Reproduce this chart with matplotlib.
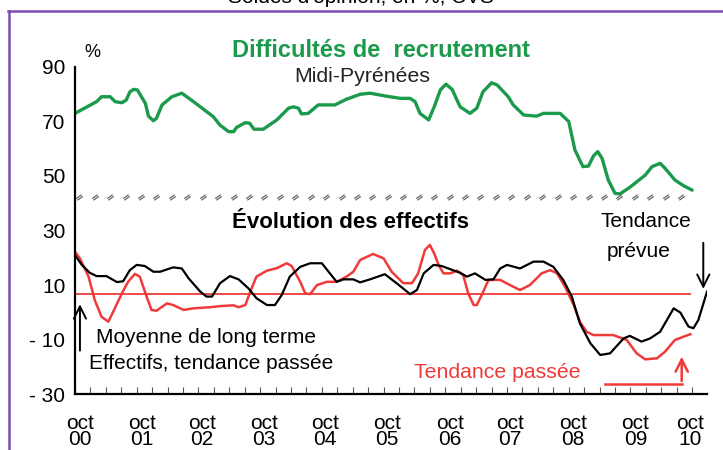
import matplotlib
matplotlib.use("Agg")
import matplotlib.pyplot as plt
from matplotlib.lines import Line2D
from matplotlib.markers import MarkerStyle
from matplotlib.transforms import Affine2D
import numpy as np

plt.rcParams['font.family'] = ['Liberation Sans', 'DejaVu Sans']

# ---- data ----
green_dates = [2000.75, 2001.10, 2001.18, 2001.32, 2001.40, 2001.51, 2001.58, 2001.64, 2001.70, 2001.76,
               2001.89, 2001.94, 2002.02, 2002.07, 2002.16, 2002.32, 2002.48, 2002.67, 2002.99, 2003.10,
               2003.24, 2003.32, 2003.37, 2003.51, 2003.58, 2003.65, 2003.80, 2004.02, 2004.21, 2004.29,
               2004.37, 2004.42, 2004.53, 2004.69, 2004.96, 2005.15, 2005.37, 2005.53, 2005.77, 2006.02,
               2006.18, 2006.26, 2006.34, 2006.48, 2006.57, 2006.67, 2006.76, 2006.86, 2006.99, 2007.15,
               2007.26, 2007.36, 2007.50, 2007.59, 2007.77, 2007.85, 2008.02, 2008.23, 2008.34, 2008.61,
               2008.75, 2008.85, 2008.98, 2009.07, 2009.15, 2009.22, 2009.29, 2009.39, 2009.50, 2009.58,
               2009.75, 2009.99, 2010.10, 2010.23, 2010.31, 2010.47, 2010.61, 2010.75]
green_values = [72.9, 77.2, 79.0, 79.0, 77.2, 76.8, 77.8, 80.8, 81.7, 81.5,
                76.6, 71.9, 70.2, 71.1, 76.0, 79.0, 80.3, 77.2, 71.7, 68.6,
                66.2, 66.2, 67.8, 69.5, 69.3, 67.1, 67.1, 70.5, 74.8, 75.3,
                74.8, 72.7, 72.9, 76.0, 76.0, 78.1, 79.9, 80.3, 79.3, 78.4,
                78.4, 77.2, 72.9, 70.5, 75.3, 81.5, 83.6, 81.7, 75.3, 72.9,
                74.8, 80.8, 84.1, 83.3, 79.0, 76.0, 72.3, 71.9, 72.9, 72.9,
                69.9, 59.5, 53.4, 53.6, 57.3, 58.9, 56.4, 48.5, 43.6, 43.4,
                46.0, 50.3, 53.4, 54.6, 52.8, 48.5, 46.4, 44.8]

black_dates = [2000.75, 2000.86, 2000.99, 2001.10, 2001.26, 2001.43, 2001.53, 2001.64, 2001.75, 2001.88,
               2002.02, 2002.13, 2002.34, 2002.48, 2002.59, 2002.78, 2002.88, 2002.97, 2003.10, 2003.26,
               2003.40, 2003.56, 2003.69, 2003.86, 2003.99, 2004.10, 2004.23, 2004.40, 2004.56, 2004.75,
               2004.88, 2004.99, 2005.10, 2005.26, 2005.37, 2005.53, 2005.77, 2005.96, 2006.18, 2006.29,
               2006.40, 2006.56, 2006.69, 2006.99, 2007.10, 2007.23, 2007.40, 2007.53, 2007.64, 2007.75,
               2007.96, 2008.18, 2008.34, 2008.50, 2008.66, 2008.80, 2008.93, 2009.10, 2009.26, 2009.42,
               2009.64, 2009.74, 2009.93, 2010.07, 2010.23, 2010.34, 2010.45, 2010.56, 2010.69, 2010.77,
               2010.85, 2010.99]
black_values = [21.0, 17.4, 14.5, 13.3, 13.3, 11.1, 11.4, 15.5, 17.4, 17.0,
                14.9, 14.9, 16.5, 16.1, 12.5, 7.6, 5.8, 5.8, 10.7, 13.3,
                12.1, 8.8, 5.2, 2.7, 2.7, 6.4, 13.1, 16.7, 18.0, 18.0,
                14.3, 11.2, 12.1, 12.1, 11.0, 12.1, 14.0, 10.7, 6.7, 8.2,
                14.3, 17.4, 17.0, 14.5, 13.1, 14.3, 11.9, 12.1, 16.1, 17.4,
                16.1, 18.6, 18.6, 16.7, 11.9, 5.8, -4.0, -11.3, -15.6, -15.0,
                -9.5, -8.6, -10.7, -9.5, -7.1, -2.8, 1.5, -0.1, -5.2, -5.8,
                -2.8, 7.6]

red_dates = [2000.75, 2000.83, 2000.97, 2001.07, 2001.18, 2001.29, 2001.37, 2001.51, 2001.61, 2001.72,
             2001.80, 2001.91, 2001.99, 2002.07, 2002.24, 2002.34, 2002.51, 2002.67, 2002.94, 2003.10,
             2003.32, 2003.40, 2003.51, 2003.59, 2003.69, 2003.86, 2004.02, 2004.18, 2004.26, 2004.40,
             2004.48, 2004.56, 2004.67, 2004.83, 2004.99, 2005.15, 2005.26, 2005.37, 2005.58, 2005.75,
             2005.88, 2006.07, 2006.21, 2006.31, 2006.42, 2006.50, 2006.57, 2006.64, 2006.72, 2006.83,
             2006.94, 2007.04, 2007.12, 2007.21, 2007.26, 2007.34, 2007.45, 2007.64, 2007.80, 2007.96,
             2008.12, 2008.31, 2008.45, 2008.56, 2008.69, 2008.83, 2008.93, 2009.04, 2009.15, 2009.47,
             2009.69, 2009.85, 2009.99, 2010.18, 2010.31, 2010.47, 2010.61, 2010.72]
red_values = [22.2, 19.8, 13.1, 4.5, -1.6, -3.4, 0.3, 7.0, 11.2, 14.1,
              13.1, 5.8, 0.9, 0.6, 3.3, 2.7, 0.9, 1.5, 1.9, 2.3,
              2.6, 1.9, 2.7, 7.6, 13.1, 15.3, 16.2, 18.0, 17.0, 11.2,
              7.0, 6.7, 10.0, 11.2, 11.2, 13.1, 14.9, 19.2, 21.4, 19.8,
              14.9, 10.7, 10.7, 14.3, 22.9, 24.7, 21.6, 17.4, 14.3, 14.3,
              15.3, 13.7, 7.0, 2.7, 2.7, 6.4, 11.9, 11.9, 10.0, 8.2,
              10.0, 14.3, 15.5, 14.3, 9.4, 2.7, -3.4, -7.1, -8.3, -8.3,
              -10.1, -15.0, -17.2, -16.8, -14.4, -10.1, -8.9, -8.0]

long_term_mean = 6.6
mean_span = [2000.75, 2010.72]
break_level = 42.3

y_ticks = [90, 70, 50, 30, 10, -10, -30]
y_tick_labels = ["90", "70", "50", "30", "10", "- 10", "- 30"]
x_tick_labels = ["oct\n%02d" % i for i in range(11)]

GREEN = "#1B9A4B"
RED = "#F03A3A"
PURPLE = "#7A4DB5"

W, H = 723, 450
fig = plt.figure(figsize=(W / 100, H / 100), dpi=100)
ax = fig.add_axes([75 / W, 1 - 394.3 / H, (707 - 75) / W, (394.3 - 66.7) / H])
ax.set_xlim(2000.75, 2010.99)
ax.set_ylim(-30, 90)

for s in ["top", "right"]:
    ax.spines[s].set_visible(False)
for s in ["left", "bottom"]:
    ax.spines[s].set_linewidth(1.6)

ax.set_yticks(y_ticks)
ax.set_yticklabels(y_tick_labels, fontsize=15)
ax.tick_params(axis="y", length=0, pad=7)

# quarterly tick marks, labels placed under each October
ax.set_xticks(np.arange(2000.75, 2011.0, 0.25), minor=True)
label_pos = [2000.83, 2001.84, 2002.81, 2003.81, 2004.80, 2005.81, 2006.83, 2007.80, 2008.82, 2009.83, 2010.72]
ax.set_xticks(label_pos)
ax.set_xticklabels(x_tick_labels, fontsize=15, linespacing=0.8)
ax.tick_params(axis="x", which="minor", direction="in", length=5, width=0.8, color="#555555")
ax.tick_params(axis="x", which="major", length=0, pad=14)

# series
ax.plot(green_dates, green_values, color=GREEN, lw=2.4, solid_joinstyle="round", solid_capstyle="round")
ax.plot(mean_span, [long_term_mean, long_term_mean], color=RED, lw=1.3)
ax.plot(red_dates, red_values, color=RED, lw=1.8, solid_joinstyle="round")
ax.plot(black_dates, black_values, color="black", lw=1.6, solid_joinstyle="round")

# break marks
bx = np.arange(2000.82, 2010.76, 0.25)
mk = MarkerStyle("$=$", transform=Affine2D().rotate_deg(35))
ax.plot(bx, [break_level] * len(bx), ls="none", marker=mk, ms=4.5, color="#555555", mew=0.2)

# texts
def fx(x):
    return x / W

def fy(y):
    return 1 - y / H

fig.text(fx(361), fy(3), "Soldes d'opinion, en %, CVS", ha="center", va="baseline", fontsize=15)
fig.text(fx(92), fy(57), "%", ha="center", va="baseline", fontsize=13)
fig.text(fx(381), fy(57.3), "Difficultés de  recrutement", ha="center", va="baseline",
         fontsize=17, fontweight="bold", color=GREEN)
fig.text(fx(362), fy(81.7), "Midi-Pyrénées", ha="center", va="baseline", fontsize=15.3, color="#222222")
fig.text(fx(351), fy(228), "Évolution des effectifs", ha="center", va="baseline",
         fontsize=16, fontweight="bold")
fig.text(fx(646), fy(226.7), "Tendance", ha="center", va="baseline", fontsize=15)
fig.text(fx(639), fy(257), "prévue", ha="center", va="baseline", fontsize=15)
fig.text(fx(206), fy(343.3), "Moyenne de long terme", ha="center", va="baseline", fontsize=15)
fig.text(fx(211), fy(369.3), "Effectifs, tendance passée", ha="center", va="baseline", fontsize=15)
fig.text(fx(497), fy(378.3), "Tendance passée", ha="center", va="baseline", fontsize=15.3, color=RED)

# arrows
ax.annotate("", xy=(2000.83, 4.0), xytext=(2000.83, -15.0),
            arrowprops=dict(arrowstyle="->", lw=1.4, color="black", mutation_scale=22))
ax.annotate("", xy=(2010.93, 7.6), xytext=(2010.93, 26.5),
            arrowprops=dict(arrowstyle="->", lw=1.4, color="black", mutation_scale=22))
ax.plot([2009.34, 2010.58], [-26.2, -26.2], color=RED, lw=1.8)
ax.annotate("", xy=(2010.58, -15.2), xytext=(2010.58, -26.2),
            arrowprops=dict(arrowstyle="->", lw=1.8, color=RED, mutation_scale=22))

# purple frame
fig.add_artist(Line2D([fx(8), 1.0], [fy(10.5), fy(10.5)], color=PURPLE, lw=1.8))
fig.add_artist(Line2D([fx(9), fx(9)], [fy(10.5), 0.0], color=PURPLE, lw=1.8))

fig.savefig("out.png", dpi=100)
